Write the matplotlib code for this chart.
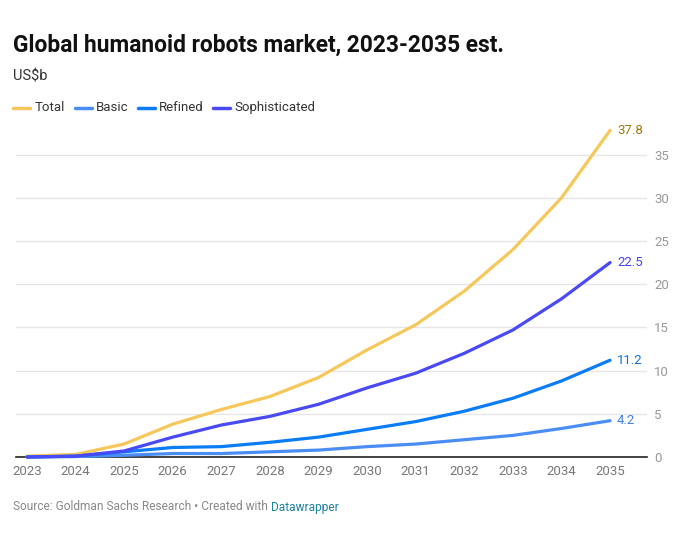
import matplotlib
matplotlib.use("Agg")
import matplotlib.pyplot as plt
from matplotlib.lines import Line2D

plt.rcParams['font.family'] = ['Roboto', 'DejaVu Sans']

years = [2023, 2024, 2025, 2026, 2027, 2028, 2029, 2030, 2031, 2032, 2033, 2034, 2035]
total = [0.1, 0.3, 1.5, 3.8, 5.5, 7.0, 9.2, 12.4, 15.3, 19.2, 24.0, 30.0, 37.8]
basic = [0.0, 0.05, 0.2, 0.4, 0.4, 0.6, 0.8, 1.2, 1.5, 2.0, 2.5, 3.3, 4.2]
refined = [0.0, 0.1, 0.6, 1.1, 1.2, 1.7, 2.3, 3.2, 4.1, 5.3, 6.8, 8.8, 11.2]
sophisticated = [0.0, 0.1, 0.7, 2.3, 3.7, 4.7, 6.1, 8.0, 9.7, 12.0, 14.7, 18.3, 22.5]

series = [
    ("Total", total, "#f6c75a", "#a07a0a"),
    ("Basic", basic, "#4a8ef5", "#3f80ee"),
    ("Refined", refined, "#0a7df6", "#0a73e8"),
    ("Sophisticated", sophisticated, "#4949f5", "#4545ee"),
]
yticks = [0, 5, 10, 15, 20, 25, 30, 35]

W, H = 673, 536
fig = plt.figure(figsize=(W / 100, H / 100), dpi=100)
ax = fig.add_axes([16 / W, 1 - 457 / H, (647 - 16) / W, (457 - 120) / H])

# total drawn first so the blue lines sit on top near zero
for name, vals, col, lcol in series:
    ax.plot(years, vals, color=col, lw=2.3, solid_capstyle='round', solid_joinstyle='round',
            zorder=3, clip_on=False)
    ax.annotate(f"{vals[-1]}", (years[-1], vals[-1]), xytext=(5, 0), textcoords='offset points',
                va='center', ha='left', fontsize=9.5, color=lcol)

ax.set_xlim(2022.774, 2035.76)
ax.set_ylim(0, 39)
ax.set_xticks(years)
ax.set_xticklabels([str(y) for y in years])
ax.set_yticks(yticks)
ax.yaxis.tick_right()
ax.tick_params(axis='y', length=0, pad=5, labelsize=9.5, labelcolor='#999999')
ax.tick_params(axis='x', length=0, pad=6, labelsize=9.5, labelcolor='#777777')
ax.grid(axis='y', color='#e6e6e6', lw=1)
ax.set_axisbelow(True)
for s in ['top', 'right', 'left']:
    ax.spines[s].set_visible(False)
ax.spines['bottom'].set_color('#222222')
ax.spines['bottom'].set_linewidth(1.2)
ax.spines['bottom'].set_zorder(2.5)

fig.text(13 / W, 1 - 45 / H, "Global humanoid robots market, 2023-2035 est.",
         fontsize=16.4, fontweight='bold', va='center', ha='left', color='#111111')
fig.text(13 / W, 1 - 76 / H, "US$b", fontsize=10.5, va='center', ha='left', color='#333333')

# legend drawn by hand
leg_y = 1 - 107.5 / H
leg = [("Total", 13, 35), ("Basic", 75, 96), ("Refined", 138, 159), ("Sophisticated", 213, 234)]
for (name, mx, tx), (_, _, col, _) in zip(leg, series):
    fig.add_artist(Line2D([mx / W, (mx + 17) / W], [leg_y, leg_y], color=col, lw=2.5,
                          solid_capstyle='round', transform=fig.transFigure))
    fig.text(tx / W, leg_y, name, fontsize=9.5, va='center', ha='left', color='#333333')

src = fig.text(13 / W, 1 - 507 / H, "Source: Goldman Sachs Research \u2022 Created with ",
               fontsize=8.6, va='center', ha='left', color='#888888')
fig.canvas.draw()
bb = src.get_window_extent()
fig.text(bb.x1 / W, 1 - 507 / H, "Datawrapper", fontsize=8.6, va='center', ha='left', color='#1d81a2')

fig.savefig("out.png", dpi=100)
